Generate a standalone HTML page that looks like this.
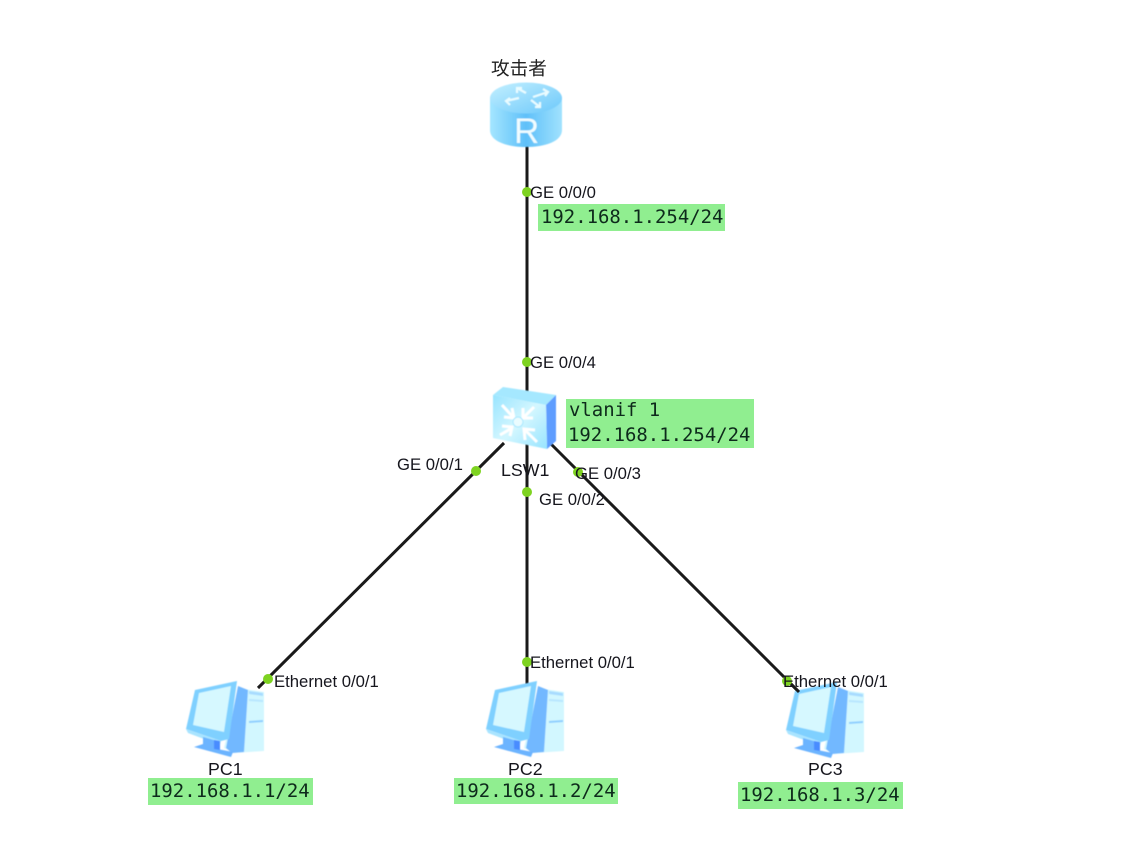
<!DOCTYPE html>
<html>
<head>
<meta charset="utf-8">
<style>
html,body{margin:0;padding:0;background:#fff;}
svg{display:block;}
text{font-family:"Liberation Sans","Noto Sans CJK SC",sans-serif;font-size:16.7px;fill:#15151f;}
.m{font-family:"DejaVu Sans Mono","Liberation Mono",monospace;font-size:18.95px;fill:#0e2a1a;}
.n{font-size:17.8px;}
</style>
</head>
<body>
<svg width="1132" height="859" viewBox="0 0 1132 859" xmlns="http://www.w3.org/2000/svg">
<defs>
<linearGradient id="cyl" x1="0" x2="1" y1="0" y2="0">
<stop offset="0" stop-color="#a4e6ff"/><stop offset=".5" stop-color="#5fc0f9"/><stop offset="1" stop-color="#a0e2fe"/>
</linearGradient>
<linearGradient id="top" x1="0" x2="1" y1="0" y2="1">
<stop offset="0" stop-color="#c4f0ff"/><stop offset="1" stop-color="#6cc8fb"/>
</linearGradient>
<linearGradient id="sw" x1="0" x2="1" y1="0" y2="1">
<stop offset="0" stop-color="#98e4ff"/><stop offset=".5" stop-color="#d4f7ff"/><stop offset="1" stop-color="#98e4ff"/>
</linearGradient>
<filter id="b" x="-5%" y="-5%" width="110%" height="110%"><feGaussianBlur stdDeviation="0.5"/></filter>
<filter id="t" x="-5%" y="-20%" width="110%" height="140%"><feGaussianBlur stdDeviation="0.3"/></filter>
<g id="pc">
<polygon points="238,688 264,692 264,751 234,753 224,748" fill="#d2f7ff"/>
<polygon points="238,686 248,690 244,752 232,753 226,748" fill="#72b8ff"/>
<polygon points="249,691 263,693 263,696 249,694" fill="#a8dcff"/>
<polygon points="249,699 263,700 263,702 249,701" fill="#b8e6ff"/>
<polygon points="249,721 263,720 263,722 249,723" fill="#8fcfff"/>
<polygon points="186,729 195,690 237,681 229,739 221,741" fill="#7fd0ff"/>
<polygon points="193,725 199,693 231,686 224,732" fill="#d6f8ff"/>
<polygon points="186,729 221,741 220,745 188,733" fill="#a9e4ff"/>
<polygon points="203,737 217,741 217,749 233,752 231,757 194,747 203,744" fill="#6cb4ff"/>
<polygon points="214,740 220,741 220,750 214,749" fill="#4a8cff"/>
</g>
</defs>

<g stroke="#1a1a1a" stroke-width="3" fill="none">
<line x1="527" y1="140" x2="527" y2="400"/>
<line x1="527" y1="440" x2="527" y2="684"/>
<line x1="504" y1="443" x2="258" y2="688"/>
<line x1="551" y1="444" x2="799" y2="692"/>
</g>

<!-- Router -->
<g filter="url(#b)">
<path d="M490 97 V130 C490 141 506 147 526 147 C546 147 562 141 562 130 V97 Z" fill="url(#cyl)"/>
<ellipse cx="526" cy="98" rx="36" ry="15.5" fill="url(#top)"/>
<g fill="none" stroke="#eafcff" stroke-width="2.2">
<path d="M517 88 L526 93 M517 93 V88 H522"/>
<path d="M548 92 L533 97 M543 89 L548 92 L545 96"/>
<path d="M506 101 L519 98 M510 98 L506 101 L510 105"/>
<path d="M531 100 L540 107 M540 102 V107 H535"/>
</g>
<text x="514" y="143" style="font-size:35px;fill:#f0fcff">R</text>
</g>

<!-- Switch -->
<g filter="url(#b)">
<polygon points="493,395 503,387 556,395 546,405" fill="#a5e8ff"/>
<polygon points="546,405 556,395 556,441 547,449" fill="#5f9dff"/>
<polygon points="493,395 546,405 547,449 493,438" fill="url(#sw)"/>
<g fill="none" stroke="#fff" stroke-width="3">
<path d="M502 405 L513 417 M512 408 L514 418 L504 417"/>
<path d="M534 407 L524 417 M523 408 L523 418 L533 418"/>
<path d="M500 435 L512 428 M502 426 L512 427 L510 436"/>
<path d="M537 442 L525 430 M525 440 L524 429 L535 430"/>
</g>
<circle cx="518" cy="422" r="5" fill="#eafcff" stroke="#a8e8ff"/>
</g>

<!-- PCs -->
<g filter="url(#b)">
<use href="#pc"/>
<use href="#pc" x="300"/>
<use href="#pc" x="600" y="1"/>
</g>
<line x1="789" y1="682" x2="799" y2="692" stroke="#1a1a1a" stroke-width="3"/>

<!-- port dots -->
<g fill="#7ed321">
<circle cx="527" cy="192" r="5"/>
<circle cx="527" cy="362" r="5"/>
<circle cx="476" cy="471" r="5"/>
<circle cx="527" cy="492" r="5"/>
<circle cx="578" cy="472" r="5"/>
<circle cx="527" cy="662" r="5"/>
<circle cx="268" cy="679" r="5"/>
<circle cx="787" cy="681" r="5"/>
</g>

<!-- green labels -->
<g fill="#90ee90">
<rect x="538" y="204" width="187" height="27"/>
<rect x="566" y="399" width="188" height="49"/>
<rect x="148" y="778" width="165" height="27"/>
<rect x="454" y="778" width="164" height="26"/>
<rect x="738" y="782" width="165" height="27"/>
</g>
<g filter="url(#t)">
<text class="m" x="541" y="223">192.168.1.254/24</text>
<text class="m" x="569" y="416">vlanif 1</text>
<text class="m" x="568" y="441">192.168.1.254/24</text>
<text class="m" x="150" y="797">192.168.1.1/24</text>
<text class="m" x="456" y="797">192.168.1.2/24</text>
<text class="m" x="740" y="801">192.168.1.3/24</text>

<!-- text labels -->
<text x="491" y="75" style="font-size:18.6px;fill:#222">攻击者</text>
<text x="530" y="198">GE 0/0/0</text>
<text x="530" y="368">GE 0/0/4</text>
<text x="397" y="470">GE 0/0/1</text>
<text class="n" x="501" y="476">LSW1</text>
<text x="539" y="505">GE 0/0/2</text>
<text x="575" y="479">GE 0/0/3</text>
<text x="274" y="687">Ethernet 0/0/1</text>
<text x="530" y="668">Ethernet 0/0/1</text>
<text x="783" y="687">Ethernet 0/0/1</text>
<text class="n" x="208" y="775">PC1</text>
<text class="n" x="508" y="775">PC2</text>
<text class="n" x="808" y="775">PC3</text>
</g>
</svg>
</body>
</html>
